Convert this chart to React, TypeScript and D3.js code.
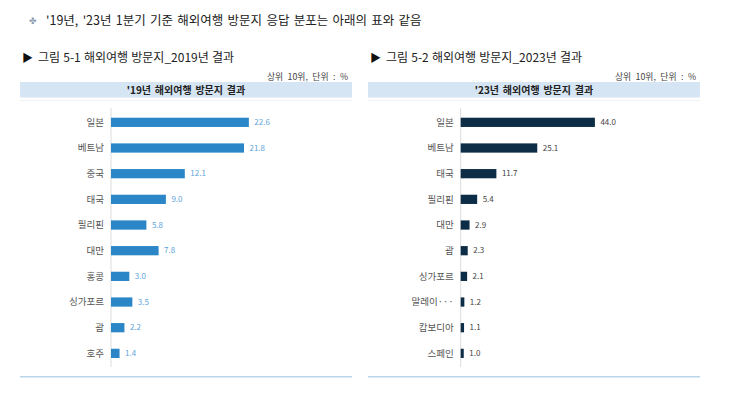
import React from "react";
import * as d3 from "d3";

const note = "'19년, '23년 1분기 기준 해외여행 방문지 응답 분포는 아래의 표와 같음";
const titles = ["그림 5-1 해외여행 방문지_2019년 결과", "그림 5-2 해외여행 방문지_2023년 결과"];
const headers = ["'19년 해외여행 방문지 결과", "'23년 해외여행 방문지 결과"];
const unitNote = "상위 10위, 단위 : %";

const cats2019 = ["일본", "베트남", "중국", "태국", "필리핀", "대만", "홍콩", "싱가포르", "괌", "호주"];
const vals2019 = [22.6, 21.8, 12.1, 9.0, 5.8, 7.8, 3.0, 3.5, 2.2, 1.4];
const cats2023 = ["일본", "베트남", "태국", "필리핀", "대만", "괌", "싱가포르", "말레이···", "캄보디아", "스페인"];
const vals2023 = [44.0, 25.1, 11.7, 5.4, 2.9, 2.3, 2.1, 1.2, 1.1, 1.0];
const domainMax = [25, 50];

const FONT = "'Noto Sans CJK KR', 'Noto Sans', sans-serif";

type PanelProps = {
  x0: number;
  x1: number;
  axisX: number;
  title: string;
  header: string;
  cats: string[];
  vals: number[];
  max: number;
  barColor: string;
  valColor: string;
};

function Panel({ x0, x1, axisX, title, header, cats, vals, max, barColor, valColor }: PanelProps) {
  const x = d3.scaleLinear().domain([0, max]).range([axisX, axisX + 152.5]);
  const y = d3.scaleBand<string>().domain(cats).range([109.5, 366.2]).paddingInner(0.64).paddingOuter(0.32);
  return (
    <g>
      <text x={x0 + 2} y={62} fontSize={11} fill="#111">▶</text>
      <text x={x0 + 18} y={61.5} fontSize={12} fill="#222" wordSpacing={0.5}>{title}</text>
      <text x={x1 - 4} y={80} fontSize={8.8} fill="#444" textAnchor="end" wordSpacing={2.5}>{unitNote}</text>
      <rect x={x0} y={82} width={x1 - x0} height={15.5} fill="#d5e5f3" />
      <text x={(x0 + x1) / 2} y={93.5} fontSize={10} fontWeight={600} fill="#222" textAnchor="middle" wordSpacing={1.5}>{header}</text>
      <line x1={x0} x2={x1} y1={100.5} y2={100.5} stroke="#eef3f8" />
      <line x1={axisX} x2={axisX} y1={108} y2={367} stroke="#dcdcdc" />
      {cats.map((c, i) => {
        const by = y(c)!;
        const cy = by + y.bandwidth() / 2;
        return (
          <g key={c}>
            <text x={axisX - 7} y={cy + 3.3} fontSize={9.5} fill="#555" textAnchor="end">{c}</text>
            <rect x={x(0)} y={by} width={x(vals[i]) - x(0)} height={y.bandwidth()} fill={barColor} />
            <text x={x(vals[i]) + 5.5} y={cy + 2.8} fontSize={8} fill={valColor}>{vals[i].toFixed(1)}</text>
          </g>
        );
      })}
      <line x1={x0} x2={x1} y1={376.7} y2={376.7} stroke="#b9d5ea" strokeWidth={1.5} />
    </g>
  );
}

export default function App() {
  return (
    <svg width={730} height={413} style={{ position: "absolute", left: 0, top: 0, fontFamily: FONT, background: "#fff" }}>
      <rect width={730} height={413} fill="#fff" />
      <text x={29} y={24} fontSize={9} fill="#8a9cb0" fontFamily="'DejaVu Sans'">✤</text>
      <text x={46} y={25} fontSize={12.5} fill="#222" wordSpacing={1.5}>{note}</text>
      <Panel x0={20} x1={352} axisX={111} title={titles[0]} header={headers[0]} cats={cats2019} vals={vals2019}
        max={domainMax[0]} barColor="#2a86c6" valColor="#5ea4da" />
      <Panel x0={368} x1={700} axisX={460.7} title={titles[1]} header={headers[1]} cats={cats2023} vals={vals2023}
        max={domainMax[1]} barColor="#0c2d45" valColor="#444" />
    </svg>
  );
}
